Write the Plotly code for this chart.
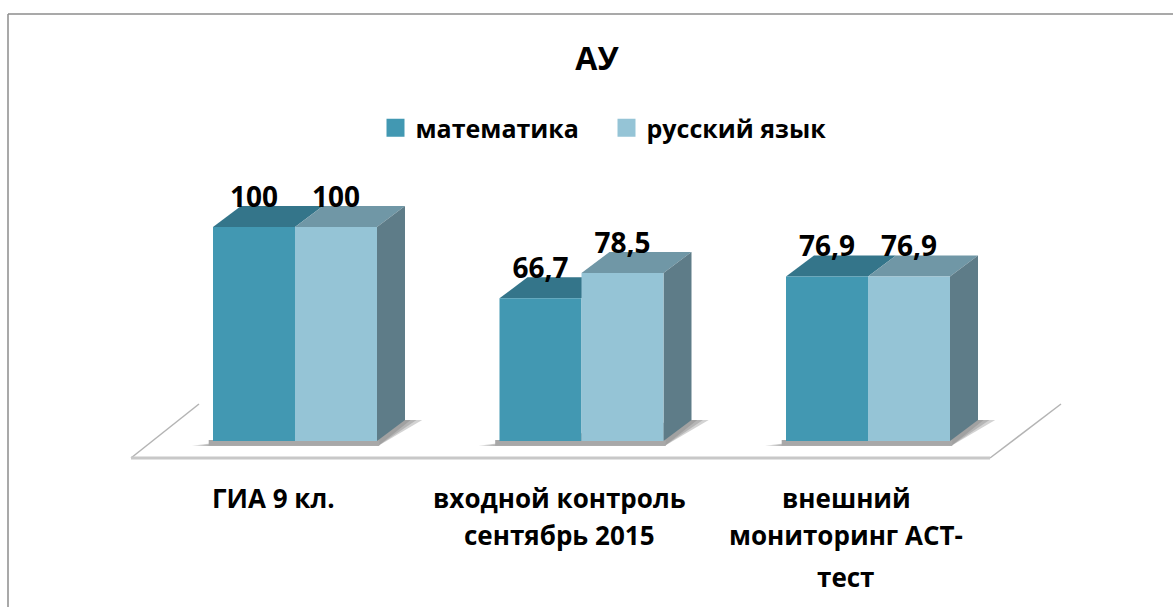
import plotly.graph_objects as go

title = "АУ"
series_names = ["математика", "русский язык"]
categories = [["ГИА 9 кл."], ["входной контроль", "сентябрь 2015"], ["внешний", "мониторинг АСТ-", "тест"]]
math_values = [100, 66.7, 76.9]
russian_values = [100, 78.5, 76.9]

front_colors = ["#4298B2", "#95C4D6"]
top_colors = ["#34758A", "#7097A6"]
side_color = "#5E7C88"
FONT = "Open Sans"

W, H = 1173, 607
UX, UY = 286.5, 2.14       # pixels per category / per value unit
X0, Y0 = 295, 441          # pixel position of category 0 / value 0
BW = 82 / UX               # bar width
DX, DY = 28 / UX, 21 / UY  # depth of the 3D extrusion

xr = [-X0 / UX, (W - X0) / UX]
yr = [-(H - Y0) / UY, Y0 / UY]
fig = go.Figure()

def poly(xs, ys, color, yaxis="y"):
    fig.add_trace(go.Scatter(x=xs + xs[:1], y=ys + ys[:1], mode="lines", fill="toself", fillcolor=color,
                             line=dict(width=0), hoverinfo="skip", showlegend=False, yaxis=yaxis))

def line(xs, ys, color, width):
    fig.add_trace(go.Scatter(x=xs, y=ys, mode="lines", line=dict(color=color, width=width),
                             hoverinfo="skip", showlegend=False))

# floor
line([-164 / UX, -96 / UX], [-17 / UY, 37 / UY], "#b4b4b4", 1.5)
line([695 / UX, 766 / UX], [-17 / UY, 37 / UY], "#b4b4b4", 1.5)
line([-164 / UX, 695 / UX], [-17 / UY, -17 / UY], "#c8c8c8", 3)

# base shadows, layered to fade outwards
for i in range(3):
    left = -BW - DX * (0.75 - 0.2 * i)
    for c in range(3):
        e = 0.02 + 0.02 * (2 - i)
        poly([c + left, c + BW + 0.005, c + BW + DX + e, c + BW + DX - 0.02],
             [-2.2, -2.2, DY, DY],
             "rgba(120,120,120,0.33)")
for c in range(3):
    poly([c - BW - 0.015, c + BW + 0.008, c + BW + 0.008, c - BW - 0.015], [0.5, 0.5, -2.2, -2.2], "#a8a8a8")

# depth faces
for c, (a, b) in enumerate(zip(math_values, russian_values)):
    poly([c - BW, c, c + DX, c - BW + DX], [a, a, a + DY, a + DY], top_colors[0])
    poly([c, c + BW, c + BW + DX, c + DX], [b, b, b + DY, b + DY], top_colors[1])
    poly([c + BW, c + BW + DX, c + BW + DX, c + BW], [0, DY, b + DY, b], side_color)

# fronts
for name, vals, col, off in [(series_names[0], math_values, front_colors[0], -BW),
                             (series_names[1], russian_values, front_colors[1], 0)]:
    fig.add_trace(go.Bar(x=[0, 1, 2], y=vals, width=BW, offset=off, marker=dict(color=col, line=dict(width=0)),
                         yaxis="y2", showlegend=False, hoverinfo="skip"))
    fig.add_trace(go.Scatter(x=[c + off + BW / 2 for c in range(3)], y=[v + 27 / UY for v in vals], mode="text",
                             text=[str(v).replace(".", ",") for v in vals], textposition="middle center",
                             textfont=dict(family=FONT, size=28, color="black", weight="bold"),
                             yaxis="y2", showlegend=False, hoverinfo="skip", cliponaxis=False))
    fig.add_trace(go.Scatter(x=[None], y=[None], mode="markers", name=name, yaxis="y2",
                             marker=dict(symbol="square", size=16, color=col, line=dict(width=2, color=col))))

# category labels, one line each for the reference's line spacing
label_x = [-22 / UX + c for c in range(3)]
line_y = [498, 535, 577]
annotations = []
for c, lines in enumerate(categories):
    for j, t in enumerate(lines):
        annotations.append(dict(x=label_x[c], xref="x", y=1 - line_y[j] / H, yref="paper", text=t,
                                showarrow=False, xanchor="center", yanchor="middle",
                                font=dict(family=FONT, size=26, color="black", weight="bold")))

axis = dict(visible=False, fixedrange=True)
fig.update_layout(
    width=W, height=H, margin=dict(l=0, r=0, t=0, b=0), autosize=False,
    paper_bgcolor="white", plot_bgcolor="rgba(0,0,0,0)", barmode="overlay",
    xaxis=dict(range=xr, **axis),
    yaxis=dict(range=yr, **axis),
    yaxis2=dict(range=yr, overlaying="y", **axis),
    title=dict(text=title, x=597 / W, xanchor="center", y=1 - 59 / H, yanchor="middle",
               font=dict(family=FONT, size=32, color="black", weight="bold")),
    legend=dict(orientation="h", x=606.5 / W, xanchor="center", y=1 - 128 / H, yanchor="middle",
                bgcolor="rgba(0,0,0,0)", font=dict(family=FONT, size=25, color="black", weight="bold"),
                itemsizing="trace", itemwidth=30, entrywidth=186, entrywidthmode="pixels"),
    annotations=annotations,
    shapes=[dict(type="line", xref="paper", yref="paper", x0=8 / W, x1=8 / W, y0=0, y1=1 - 14 / H,
                 line=dict(color="#8c8c8c", width=1.5)),
            dict(type="line", xref="paper", yref="paper", x0=8 / W, x1=1, y0=1 - 14 / H, y1=1 - 14 / H,
                 line=dict(color="#8c8c8c", width=1.5))],
)
fig.write_html("out.html", config=dict(displayModeBar=False), post_script="document.body.style.margin='0';")
